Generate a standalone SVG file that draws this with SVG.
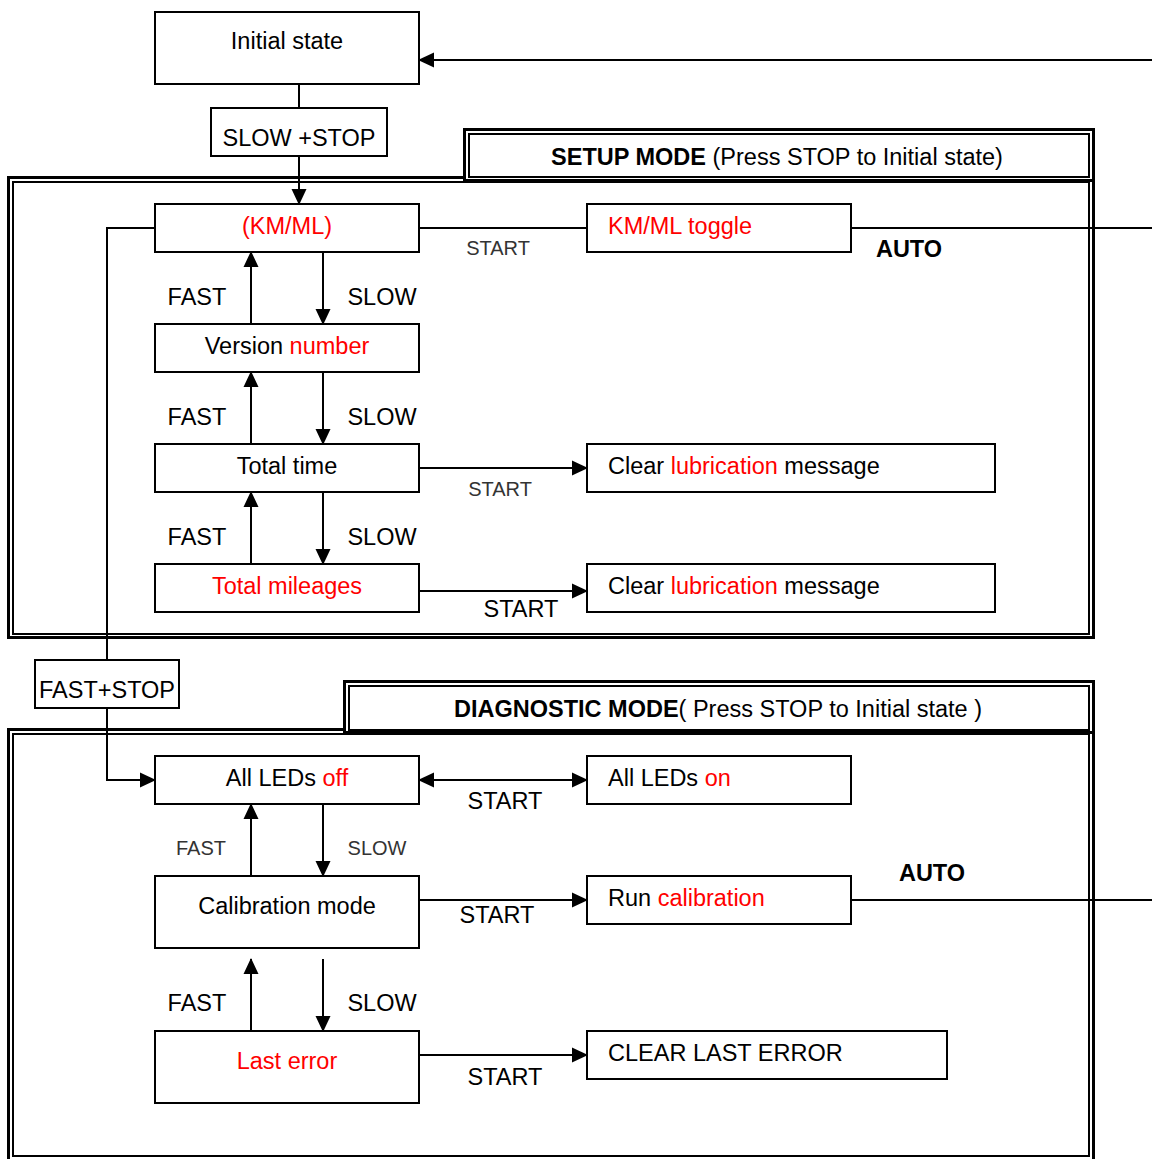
<svg xmlns="http://www.w3.org/2000/svg" width="1152" height="1159" viewBox="0 0 1152 1159">
<style>
text{font-family:"Liberation Sans",Arial,Helvetica,sans-serif;font-size:23.5px;fill:#000}
.r{fill:#f00}
.b{font-weight:bold}
.s{font-size:20px;fill:#333}
.m{text-anchor:middle}
.box{fill:#fff;stroke:#000;stroke-width:2}
.fo{fill:none;stroke:#000;stroke-width:3}
.fi{fill:none;stroke:#000;stroke-width:2}
.c{fill:none;stroke:#000;stroke-width:2}
</style>
<defs>
<marker id="a" markerUnits="userSpaceOnUse" markerWidth="16" markerHeight="16" refX="15" refY="8" orient="auto-start-reverse">
<path d="M0,0.5 L16,8 L0,15.5 Z" fill="#000"/>
</marker>
</defs>
<g id="frames">
<rect class="fo" x="8.5" y="177.5" width="1085" height="460"/>
<rect class="fi" x="13" y="182" width="1076" height="452"/>
<rect class="fo" x="8.5" y="729.5" width="1085" height="440"/>
<rect class="fi" x="13" y="734" width="1076" height="422"/>
</g>
<g id="setup-header">
<rect x="464.5" y="129.5" width="629" height="51" fill="#fff" stroke="#000" stroke-width="3"/>
<rect class="fi" x="469" y="134" width="620" height="43"/>
<text class="m" x="777" y="165" font-size="24"><tspan class="b">SETUP MODE</tspan> (Press STOP to Initial state)</text>
</g>
<g id="diag-header">
<rect x="344.5" y="681.5" width="749" height="51" fill="#fff" stroke="#000" stroke-width="3"/>
<rect class="fi" x="349" y="686" width="740" height="44"/>
<text class="m" x="718" y="717" font-size="24"><tspan class="b">DIAGNOSTIC MODE</tspan>( Press STOP to Initial state )</text>
</g>
<g id="connectors">
<line class="c" x1="1152" y1="60" x2="419" y2="60" marker-end="url(#a)"/>
<line class="c" x1="299" y1="84" x2="299" y2="108"/>
<line class="c" x1="299" y1="156" x2="299" y2="204" marker-end="url(#a)"/>
<line class="c" x1="419" y1="228" x2="587" y2="228"/>
<line class="c" x1="851" y1="228" x2="1152" y2="228"/>
<polyline class="c" points="155,228 107,228 107,660"/>
<polyline class="c" points="107,708 107,780 155,780" marker-end="url(#a)"/>
<line class="c" x1="251" y1="324" x2="251" y2="252" marker-end="url(#a)"/>
<line class="c" x1="323" y1="252" x2="323" y2="324" marker-end="url(#a)"/>
<line class="c" x1="251" y1="444" x2="251" y2="372" marker-end="url(#a)"/>
<line class="c" x1="323" y1="372" x2="323" y2="444" marker-end="url(#a)"/>
<line class="c" x1="251" y1="564" x2="251" y2="492" marker-end="url(#a)"/>
<line class="c" x1="323" y1="492" x2="323" y2="564" marker-end="url(#a)"/>
<line class="c" x1="419" y1="468" x2="587" y2="468" marker-end="url(#a)"/>
<line class="c" x1="417" y1="591" x2="587" y2="591" marker-end="url(#a)"/>
<line class="c" x1="419" y1="780" x2="587" y2="780" marker-start="url(#a)" marker-end="url(#a)"/>
<line class="c" x1="251" y1="876" x2="251" y2="804" marker-end="url(#a)"/>
<line class="c" x1="323" y1="804" x2="323" y2="876" marker-end="url(#a)"/>
<line class="c" x1="417" y1="900" x2="587" y2="900" marker-end="url(#a)"/>
<line class="c" x1="851" y1="900" x2="1152" y2="900"/>
<line class="c" x1="251" y1="1031" x2="251" y2="959" marker-end="url(#a)"/>
<line class="c" x1="323" y1="959" x2="323" y2="1031" marker-end="url(#a)"/>
<line class="c" x1="419" y1="1055" x2="587" y2="1055" marker-end="url(#a)"/>
</g>
<g id="labels">
<text class="s m" x="498" y="255">START</text>
<text class="b m" x="909" y="257">AUTO</text>
<text class="m" x="197" y="305">FAST</text>
<text class="m" x="382" y="305">SLOW</text>
<text class="m" x="197" y="425">FAST</text>
<text class="m" x="382" y="425">SLOW</text>
<text class="s m" x="500" y="496">START</text>
<text class="m" x="197" y="545">FAST</text>
<text class="m" x="382" y="545">SLOW</text>
<text class="m" x="521" y="617">START</text>
<text class="m" x="505" y="809">START</text>
<text class="s m" x="201" y="855">FAST</text>
<text class="s m" x="377" y="855">SLOW</text>
<text class="m" x="497" y="923">START</text>
<text class="b m" x="932" y="881">AUTO</text>
<text class="m" x="197" y="1011">FAST</text>
<text class="m" x="382" y="1011">SLOW</text>
<text class="m" x="505" y="1085">START</text>
</g>
<g id="initial-state"><rect class="box" x="155" y="12" width="264" height="72"/><text class="m" x="287" y="49">Initial state</text></g>
<g id="slow-stop"><rect class="box" x="211" y="108" width="176" height="48"/><text class="m" x="299" y="146">SLOW +STOP</text></g>
<g id="kmml"><rect class="box" x="155" y="204" width="264" height="48"/><text class="m r" x="287" y="234">(KM/ML)</text></g>
<g id="kmml-toggle"><rect class="box" x="587" y="204" width="264" height="48"/><text class="r" x="608" y="234">KM/ML toggle</text></g>
<g id="version"><rect class="box" x="155" y="324" width="264" height="48"/><text class="m" x="287" y="354">Version <tspan class="r">number</tspan></text></g>
<g id="total-time"><rect class="box" x="155" y="444" width="264" height="48"/><text class="m" x="287" y="474">Total time</text></g>
<g id="clear-lub-1"><rect class="box" x="587" y="444" width="408" height="48"/><text x="608" y="474">Clear <tspan class="r">lubrication</tspan> message</text></g>
<g id="total-mileages"><rect class="box" x="155" y="564" width="264" height="48"/><text class="m r" x="287" y="594">Total mileages</text></g>
<g id="clear-lub-2"><rect class="box" x="587" y="564" width="408" height="48"/><text x="608" y="594">Clear <tspan class="r">lubrication</tspan> message</text></g>
<g id="fast-stop"><rect class="box" x="35" y="660" width="144" height="48"/><text class="m" x="107" y="698">FAST+STOP</text></g>
<g id="leds-off"><rect class="box" x="155" y="756" width="264" height="48"/><text class="m" x="287" y="786">All LEDs <tspan class="r">off</tspan></text></g>
<g id="leds-on"><rect class="box" x="587" y="756" width="264" height="48"/><text x="608" y="786">All LEDs <tspan class="r">on</tspan></text></g>
<g id="calibration"><rect class="box" x="155" y="876" width="264" height="72"/><text class="m" x="287" y="914">Calibration mode</text></g>
<g id="run-calibration"><rect class="box" x="587" y="876" width="264" height="48"/><text x="608" y="906">Run <tspan class="r">calibration</tspan></text></g>
<g id="last-error"><rect class="box" x="155" y="1031" width="264" height="72"/><text class="m r" x="287" y="1069">Last error</text></g>
<g id="clear-last-error"><rect class="box" x="587" y="1031" width="360" height="48"/><text x="608" y="1061">CLEAR LAST ERROR</text></g>
</svg>
